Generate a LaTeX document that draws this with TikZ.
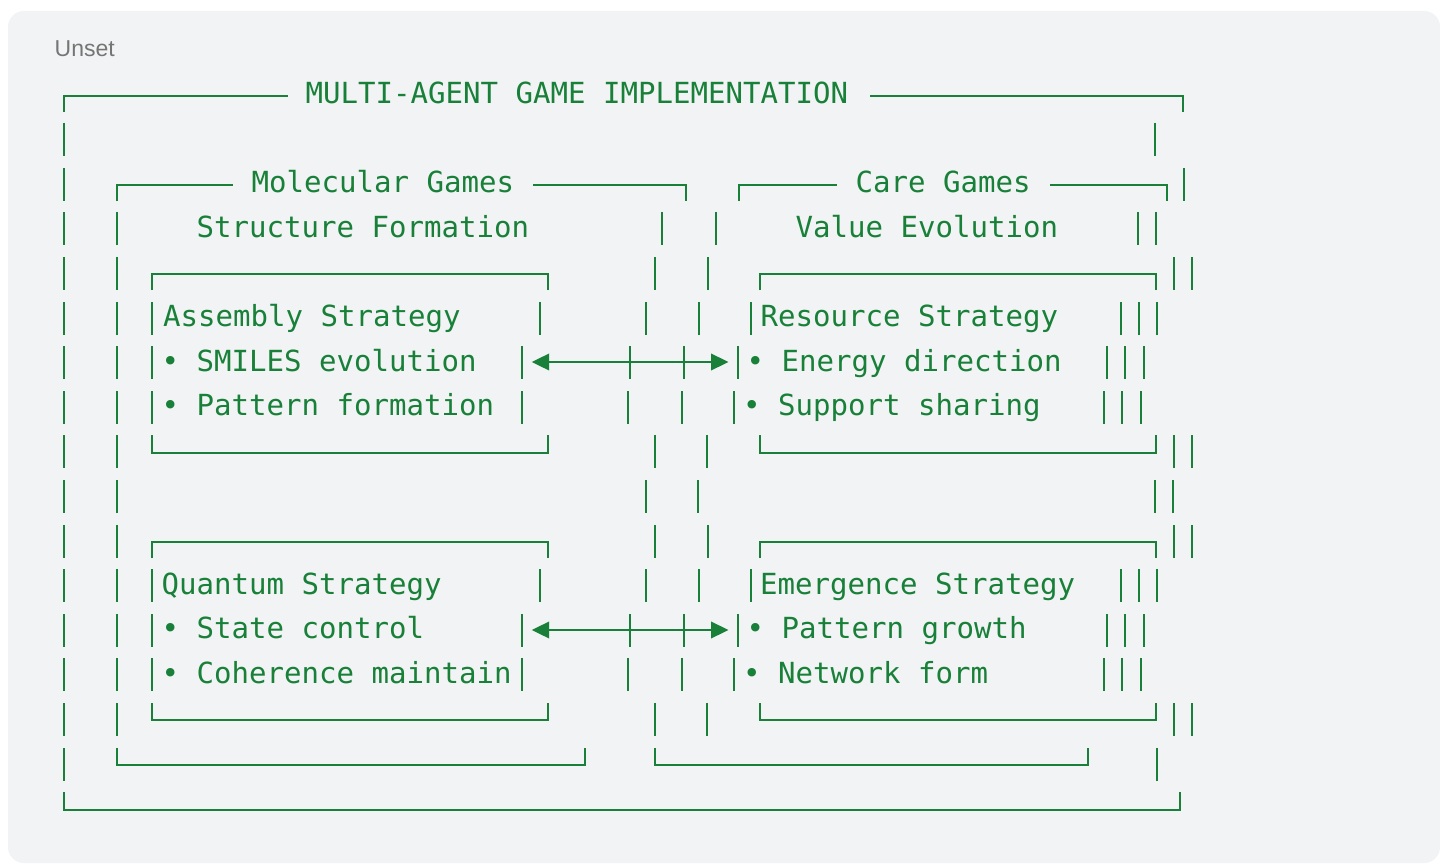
\documentclass[tikz,border=0pt]{standalone}
\usepackage{fontspec}
\usetikzlibrary{arrows.meta}
\newfontfamily\codemono{DejaVu Sans Mono}
\newfontfamily\uisans{Liberation Sans}
\definecolor{codegreen}{HTML}{188038}
\definecolor{panelgray}{HTML}{F1F3F4}
\definecolor{labelgray}{HTML}{757575}
% vertical bar in a row
\newcommand\VB[2]{\draw[boxline] (#1,{round(78.5+44.6*(#2))}) -- ++(0,33);}
\newcommand\VBs[2]{\foreach \xx in {#1}{\VB{\xx}{#2}}}
% top edge of a box
\newcommand\TE[3]{\draw[boxline] (#1,{round(78.5+44.6*(#3))+33}) -- (#1,{round(96+44.6*(#3))}) -- (#2,{round(96+44.6*(#3))}) -- (#2,{round(78.5+44.6*(#3))+33});}
\newcommand\TEL[3]{\draw[boxline] (#1,{round(78.5+44.6*(#3))+33}) -- (#1,{round(96+44.6*(#3))}) -- (#2,{round(96+44.6*(#3))});}
\newcommand\TER[3]{\draw[boxline] (#1,{round(96+44.6*(#3))}) -- (#2,{round(96+44.6*(#3))}) -- (#2,{round(78.5+44.6*(#3))+33});}
% bottom edge of a box
\newcommand\BE[3]{\draw[boxline] (#1,{round(78.5+44.6*(#3))}) -- (#1,{round(96+44.6*(#3))}) -- (#2,{round(96+44.6*(#3))}) -- (#2,{round(78.5+44.6*(#3))});}
% text on a row
\newcommand\TX[4]{\node[codetext] (#1) at (#2,{78.5+44.6*(#3)+25}) {#4};}
\begin{document}
\begin{tikzpicture}[x=1pt,y=-1pt,
  boxline/.style={draw=codegreen,line width=2pt,line cap=butt,line join=miter},
  codetext/.style={anchor=base west,inner sep=0pt,text=codegreen,font=\codemono\fontsize{29.07}{30}\selectfont},
  linkarrow/.style={draw=codegreen,line width=2.2pt,{Triangle[length=17.5pt,width=16.5pt]}-{Triangle[length=17.5pt,width=16.5pt]}}]
\useasboundingbox (0,0) rectangle (1440,864);
\fill[white] (0,0) rectangle (1440,864);
\fill[panelgray,rounded corners=16pt] (8,11) rectangle (1440,863);
\node[anchor=base west,inner sep=0pt,text=labelgray,font=\uisans\fontsize{23}{26}\selectfont] (unsetlabel) at (54.5,57) {Unset};

% row 0 : outer top
\TEL{64}{288}{0}
\TX{title}{305.5}{0}{MULTI-AGENT GAME IMPLEMENTATION}
\TER{870}{1183}{0}
% row 1
\VBs{64,1155}{1}
% row 2
\VB{64}{2}
\TEL{117}{233}{2}
\TX{molgames}{251.5}{2}{Molecular Games}
\TER{533}{686}{2}
\TEL{739}{837}{2}
\TX{caregames}{855.5}{2}{Care Games}
\TER{1050}{1167}{2}
\VB{1184}{2}
% row 3
\VBs{64,117,662,716,1138,1156}{3}
\TX{structform}{196.5}{3}{Structure Formation}
\TX{valueevol}{795.5}{3}{Value Evolution}

% upper strategy boxes
\VBs{64,117,655,708,1174,1192}{4}
\TE{152}{548}{4}
\TE{760}{1156}{4}
\VBs{64,117,152,540,646,699,751,1121,1139,1157}{5}
\TX{assembly}{163}{5}{Assembly Strategy}
\TX{resource}{760.5}{5}{Resource Strategy}
\VBs{64,117,152,522,630,684,738,1107,1125,1144}{6}
\TX{smiles}{161.5}{6}{• SMILES evolution}
\TX{energy}{746.5}{6}{• Energy direction}
\coordinate (upL) at (531.7,{round(78.5+44.6*6)+16});
\coordinate (upR) at (728.5,{round(78.5+44.6*6)+16});
\draw[linkarrow] (upL) -- (upR);
\VBs{64,117,152,522,628,682,734,1104,1122,1141}{7}
\TX{patternform}{161.5}{7}{• Pattern formation}
\TX{support}{743}{7}{• Support sharing}
\VBs{64,117,655,707,1174,1192}{8}
\BE{152}{548}{8}
\BE{760}{1156}{8}
% row 9
\VBs{64,117,646,698,1155,1173}{9}

% lower strategy boxes
\VBs{64,117,655,708,1174,1192}{10}
\TE{152}{548}{10}
\TE{760}{1156}{10}
\VBs{64,117,152,540,646,699,751,1121,1139,1157}{11}
\TX{quantum}{161.5}{11}{Quantum Strategy}
\TX{emergence}{760}{11}{Emergence Strategy}
\VBs{64,117,152,522,630,684,738,1107,1125,1144}{12}
\TX{statectl}{161.5}{12}{• State control}
\TX{patgrowth}{746.5}{12}{• Pattern growth}
\coordinate (loL) at (531.7,{round(78.5+44.6*12)+16});
\coordinate (loR) at (728.5,{round(78.5+44.6*12)+16});
\draw[linkarrow] (loL) -- (loR);
\VBs{64,117,152,522,628,682,734,1104,1122,1141}{13}
\TX{coherence}{161.5}{13}{• Coherence maintain}
\TX{network}{743}{13}{• Network form}
\VBs{64,117,655,707,1174,1192}{14}
\BE{152}{548}{14}
\BE{760}{1156}{14}

% row 15 : group boxes bottom
\VBs{64,1157}{15}
\BE{117}{585}{15}
\BE{655}{1088}{15}
% row 16 : outer bottom
\BE{64}{1180}{16}
\end{tikzpicture}
\end{document}
